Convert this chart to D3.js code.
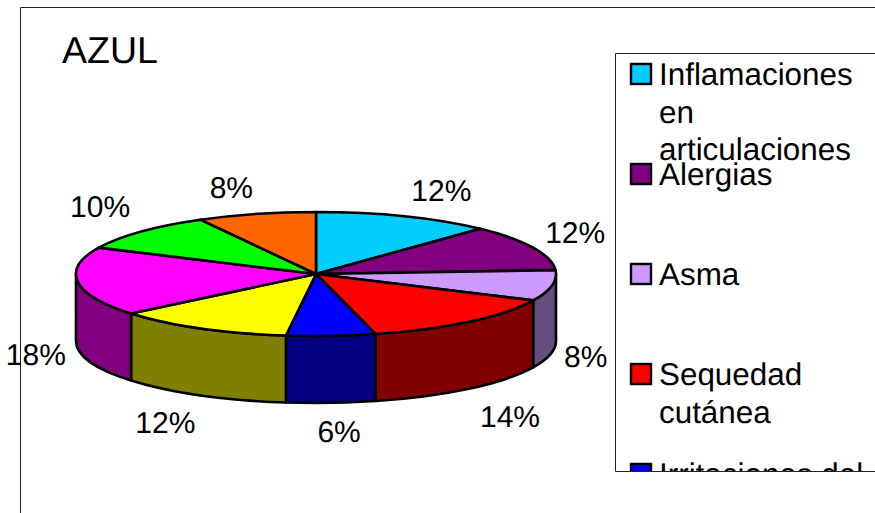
<!DOCTYPE html>
<html>
<head>
<meta charset="utf-8">
<script src="https://cdn.jsdelivr.net/npm/d3@7"></script>
<style>
  html, body { margin: 0; padding: 0; background: #fff; overflow: hidden; }
  svg { display: block; }
  text { font-family: "Liberation Sans", Arial, sans-serif; fill: #000; text-rendering: geometricPrecision; }
</style>
</head>
<body>
<div id="chart"></div>
<script>
const chartTitle = "AZUL";
const values = [12, 12, 8, 14, 6, 12, 18, 10, 8];
const topColors = ["#00ccff", "#800080", "#cc99ff", "#ff0000", "#0000ff", "#ffff00", "#ff00ff", "#00ff00", "#ff6600"];
const sideColors = ["#006680", "#400040", "#664d80", "#800000", "#000080", "#808000", "#800080", "#008000", "#803300"];
// only the entries that are visible before the legend box cuts off
const legendLines = [
    ["Inflamaciones", "en", "articulaciones"],
    ["Alergias"],
    ["Asma"],
    ["Sequedad", "cutánea"],
    ["Irritaciones del"]
];
// label offset from the rim point of each slice
const labelOffsets = [[37, -26], [42, -15], [34, 71], [41, 94], [8, 95], [-35, 94], [-42, 72], [-41, -25], [-25, -27]];

const width = 875, height = 513;
const cx = 316, cy = 274, rx = 240, ry = 62, depth = 67;

const svg = d3.select("#chart").append("svg")
    .attr("width", width)
    .attr("height", height);

const pie = d3.pie().sort(null).value(d => d);
const slices = pie(values);

// a point on the top ellipse, angle clockwise from 12 o'clock
const rim = a => [cx + rx * Math.sin(a), cy - ry * Math.cos(a)];

// side walls, only the front half of the disc shows
function wallPath(a0, a1) {
    const start = Math.max(a0, Math.PI / 2), end = Math.min(a1, 3 * Math.PI / 2);
    if (end <= start) return null;
    const p0 = rim(start), p1 = rim(end);
    return `M${p0[0]},${p0[1]} A${rx},${ry} 0 0 1 ${p1[0]},${p1[1]}` +
        ` L${p1[0]},${p1[1] + depth} A${rx},${ry} 0 0 0 ${p0[0]},${p0[1] + depth} Z`;
}

svg.append("g").selectAll("path")
    .data(slices.filter(d => wallPath(d.startAngle, d.endAngle)))
    .enter().append("path")
    .attr("d", d => wallPath(d.startAngle, d.endAngle))
    .attr("fill", d => sideColors[d.index])
    .attr("stroke", "#000")
    .attr("stroke-width", 2.6)
    .attr("stroke-linejoin", "round");

// top face: a flat d3 arc squashed into the ellipse
const arc = d3.arc().innerRadius(0).outerRadius(rx);
svg.append("g")
    .attr("transform", `translate(${cx},${cy}) scale(1,${ry / rx})`)
    .selectAll("path")
    .data(slices)
    .enter().append("path")
    .attr("d", arc)
    .attr("fill", d => topColors[d.index])
    .attr("stroke", "#000")
    .attr("stroke-width", 2.6)
    .attr("stroke-linejoin", "round")
    .style("vector-effect", "non-scaling-stroke");

// percent labels
svg.append("g").selectAll("text")
    .data(slices)
    .enter().append("text")
    .attr("x", d => rim((d.startAngle + d.endAngle) / 2)[0] + labelOffsets[d.index][0])
    .attr("y", d => rim((d.startAngle + d.endAngle) / 2)[1] + labelOffsets[d.index][1])
    .attr("dy", "0.36em")
    .attr("text-anchor", "middle")
    .style("font-size", "30px")
    .text(d => d.value + "%");

// chart frame
svg.append("path")
    .attr("d", `M20.5,${height} V7.5 H${width}`)
    .attr("fill", "none")
    .attr("stroke", "#222")
    .attr("stroke-width", 1);

// title
svg.append("text")
    .attr("x", 62)
    .attr("y", 63)
    .style("font-size", "37.5px")
    .text(chartTitle);

// legend, text runs past the box and gets clipped
const legendTop = 53, legendBottom = 471, legendLeft = 615;
svg.append("clipPath").attr("id", "legendClip")
    .append("rect")
    .attr("x", legendLeft)
    .attr("y", legendTop)
    .attr("width", width - legendLeft)
    .attr("height", legendBottom - legendTop);

const legend = svg.append("g").attr("clip-path", "url(#legendClip)");
const entry = legend.selectAll("g")
    .data(legendLines)
    .enter().append("g")
    .attr("transform", (d, i) => `translate(0,${64 + i * 100})`);

entry.append("rect")
    .attr("x", 631)
    .attr("y", 0)
    .attr("width", 20)
    .attr("height", 20)
    .attr("fill", (d, i) => topColors[i])
    .attr("stroke", "#000")
    .attr("stroke-width", 2.4);

entry.selectAll("text")
    .data(d => d)
    .enter().append("text")
    .attr("x", 659)
    .attr("y", (d, i) => 21 + i * 37.5)
    .style("font-size", "31.4px")
    .text(d => d);

svg.append("path")
    .attr("d", `M${width},${legendTop + 0.5} H${legendLeft + 0.5} V${legendBottom + 0.5} H${width}`)
    .attr("fill", "none")
    .attr("stroke", "#222")
    .attr("stroke-width", 1);
</script>
</body>
</html>
